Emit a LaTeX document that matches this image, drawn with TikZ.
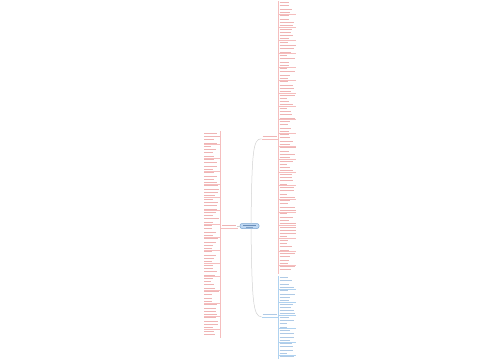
\documentclass[tikz,border=0pt]{standalone}
\usepackage{tikz}
\definecolor{redtxt}{RGB}{226,120,120}
\definecolor{redline}{RGB}{245,190,190}
\definecolor{bluetxt}{RGB}{110,160,210}
\definecolor{blueline}{RGB}{175,210,240}
\definecolor{cfill}{RGB}{190,215,242}
\definecolor{cdraw}{RGB}{120,165,210}
\definecolor{ctxt}{RGB}{70,110,160}
\definecolor{conn}{RGB}{210,210,210}
\tikzset{
  txtr/.style={draw=redtxt,line width=0.8pt,opacity=0.55},
  txtb/.style={draw=bluetxt,line width=0.8pt,opacity=0.55},
  ruler/.style={draw=redline,line width=0.5pt},
  ruleb/.style={draw=blueline,line width=0.5pt},
  connector/.style={draw=conn,line width=0.5pt},
  central/.style={draw=cdraw,fill=cfill,rounded corners=2pt,line width=0.5pt,minimum width=19pt,minimum height=5pt,inner sep=0pt},
  branch/.style={inner sep=0pt,minimum width=16pt,minimum height=4pt}
}
\begin{document}
\begin{tikzpicture}[x=1pt,y=-1pt]
\useasboundingbox[fill=white] (0,0) rectangle (500,360);
\pgfmathsetseed{11}
% nodes
\node[central] (c) at (249.5,226) {};
\node[branch] (l) at (229,226) {};
\node[branch] (rt) at (270,137) {};
\node[branch] (rb) at (270,315) {};
% text inside central node
\draw[draw=ctxt,line width=0.7pt,opacity=0.7] (243,225.2) -- (256,225.2);
\draw[draw=ctxt,line width=0.5pt,opacity=0.5] (246,227.2) -- (253,227.2);
% branch labels
\draw[txtr] (222,225.3) -- (236,225.3);
\draw[ruler] (221,227.8) -- (237.5,227.8);
\draw[txtr] (262.5,136.3) -- (277,136.3);
\draw[ruler] (261.5,138.8) -- (278.5,138.8);
\draw[txtb] (262.5,314.3) -- (277,314.3);
\draw[ruleb] (261.5,316.8) -- (278.5,316.8);
% connectors
\draw[connector] (c.west) -- (l.east);
\draw[connector] (251,223.5) .. controls (252,150) and (253,138.8) .. (261.5,138.8);
\draw[connector] (251,228.5) .. controls (252,300) and (253,316.8) .. (261.5,316.8);
% left column
\draw[ruler] (220.5,131) -- (220.5,338);
\foreach \y [count=\i] in {133,136.3,...,337}{
  \pgfmathsetmacro{\len}{7+9*rnd}
  \draw[txtr] (204,\y) -- ++(\len,0);
  \pgfmathparse{mod(\i,4)==0?1:0}
  \ifnum\pgfmathresult=1 \draw[ruler,line width=0.35pt] (204,\y+1.6) -- (220.5,\y+1.6);\fi
}
% right upper column
\draw[ruler] (278.5,1) -- (278.5,274);
\foreach \y [count=\i] in {2.5,5.8,...,272}{
  \pgfmathsetmacro{\len}{7+10*rnd}
  \draw[txtr] (279.5,\y) -- ++(\len,0);
  \pgfmathparse{mod(\i,4)==0?1:0}
  \ifnum\pgfmathresult=1 \draw[ruler,line width=0.35pt] (278.5,\y+1.6) -- (296,\y+1.6);\fi
}
% right lower column
\draw[ruleb] (278.5,276) -- (278.5,359);
\foreach \y [count=\i] in {277.5,280.8,...,358}{
  \pgfmathsetmacro{\len}{7+10*rnd}
  \draw[txtb] (279.5,\y) -- ++(\len,0);
  \pgfmathparse{mod(\i,4)==0?1:0}
  \ifnum\pgfmathresult=1 \draw[ruleb,line width=0.35pt] (278.5,\y+1.6) -- (296,\y+1.6);\fi
}
\end{tikzpicture}
\end{document}
